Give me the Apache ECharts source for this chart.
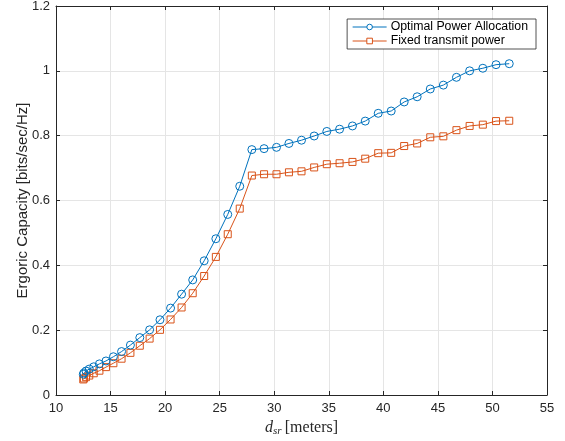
<!DOCTYPE html>
<html>
<head>
<meta charset="utf-8">
<script src="https://cdn.jsdelivr.net/npm/echarts@6/dist/echarts.min.js"></script>
<style>html,body{margin:0;padding:0;background:#fff}#c{width:565px;height:441px}</style>
</head>
<body>
<div id="c"></div>
<script>
const distances = [12.50,12.56,12.75,13.05,13.46,13.98,14.58,15.26,16.01,16.82,17.68,18.58,19.53,20.50,21.51,22.53,23.58,24.65,25.74,26.84,27.95,29.07,30.21,31.35,32.50,33.66,34.82,35.99,37.17,38.34,39.53,40.72,41.91,43.10,44.30,45.50,46.70,47.91,49.12,50.33,51.54];
const optimalPower = [0.064,0.068,0.074,0.080,0.087,0.096,0.105,0.118,0.134,0.154,0.177,0.201,0.232,0.268,0.311,0.355,0.414,0.482,0.557,0.644,0.757,0.760,0.764,0.776,0.786,0.799,0.813,0.820,0.830,0.845,0.869,0.876,0.904,0.920,0.944,0.956,0.980,1.000,1.008,1.019,1.022];
const fixedPower = [0.048,0.051,0.055,0.060,0.067,0.075,0.086,0.098,0.112,0.130,0.152,0.174,0.201,0.233,0.270,0.314,0.367,0.426,0.496,0.575,0.677,0.681,0.681,0.687,0.690,0.702,0.712,0.715,0.719,0.729,0.746,0.747,0.768,0.776,0.795,0.798,0.817,0.830,0.834,0.845,0.846];
const seriesNames = ['Optimal Power Allocation','Fixed transmit power'];
const xTicks = {min:10,max:55,interval:5};
const yTicks = {min:0,max:1.2,interval:0.2};

const axisColor = '#262626';
const font = 'Liberation Sans, Arial, Helvetica, sans-serif';
const serif = 'Liberation Serif, DejaVu Serif, serif';
const chart = echarts.init(document.getElementById('c'), null, {renderer:'canvas'});
const pairs = (ys) => distances.map((x,i)=>[x, ys[i]]);
chart.setOption({
  animation:false,
  backgroundColor:'#fff',
  grid:{left:56,right:18,top:6,bottom:46,containLabel:false,outerBoundsMode:'none'},
  legend:{
    orient:'vertical', right:29, top:19,
    data:seriesNames,
    backgroundColor:'#fff', borderColor:axisColor, borderWidth:0.8,
    padding:[2,8,2,5], itemGap:2, itemWidth:34, itemHeight:7,
    lineStyle:{width:1},
    itemStyle:{color:'#fff',borderWidth:1},
    textStyle:{fontFamily:font,fontSize:12.3,color:'#000',padding:[0,0,0,-1]}
  },
  xAxis:[{
    type:'value', min:xTicks.min, max:xTicks.max, interval:xTicks.interval,
    axisLine:{show:true,onZero:false,lineStyle:{color:axisColor,width:1}},
    axisTick:{show:true,inside:true,length:4,lineStyle:{color:axisColor}},
    axisLabel:{fontFamily:font,fontSize:13,color:axisColor,margin:7},
    splitLine:{show:true,lineStyle:{color:'#e5e5e5',width:1}},
    name:'{d|d}{s|sr} {m|[meters]}', nameLocation:'middle', nameGap:23,
    nameTextStyle:{rich:{
      d:{fontFamily:serif,fontStyle:'italic',fontSize:16,color:axisColor},
      s:{fontFamily:serif,fontStyle:'italic',fontSize:11,color:axisColor,padding:[7,0,0,0]},
      m:{fontFamily:serif,fontSize:16,color:axisColor}
    }}
  },{
    type:'value', position:'top', min:xTicks.min, max:xTicks.max, interval:xTicks.interval,
    axisLine:{show:true,onZero:false,lineStyle:{color:axisColor,width:1}},
    axisTick:{show:true,inside:true,length:4,lineStyle:{color:axisColor}},
    axisLabel:{show:false}, splitLine:{show:false}
  }],
  yAxis:[{
    type:'value', min:yTicks.min, max:yTicks.max, interval:yTicks.interval,
    axisLine:{show:true,onZero:false,lineStyle:{color:axisColor,width:1}},
    axisTick:{show:true,inside:true,length:4,lineStyle:{color:axisColor}},
    axisLabel:{fontFamily:font,fontSize:13,color:axisColor,margin:6,
      formatter:(v)=>String(Math.round(v*10)/10)},
    splitLine:{show:true,lineStyle:{color:'#e5e5e5',width:1}},
    name:'Ergoric Capacity [bits/sec/Hz]', nameLocation:'middle', nameGap:26,
    nameMoveOverlap:false,
    nameTextStyle:{fontFamily:font,fontSize:15,color:axisColor}
  },{
    type:'value', position:'right', min:yTicks.min, max:yTicks.max, interval:yTicks.interval,
    axisLine:{show:true,onZero:false,lineStyle:{color:axisColor,width:1}},
    axisTick:{show:true,inside:true,length:4,lineStyle:{color:axisColor}},
    axisLabel:{show:false}, splitLine:{show:false}
  }],
  series:[{
    name:seriesNames[0], type:'line', data:pairs(optimalPower),
    symbol:'circle', symbolSize:8, showAllSymbol:true,
    lineStyle:{color:'#0072BD',width:1},
    itemStyle:{color:'rgba(255,255,255,0)',borderColor:'#0072BD',borderWidth:1},
    z:3
  },{
    name:seriesNames[1], type:'line', data:pairs(fixedPower),
    symbol:'rect', symbolSize:7, showAllSymbol:true,
    lineStyle:{color:'#D95319',width:1},
    itemStyle:{color:'rgba(255,255,255,0)',borderColor:'#D95319',borderWidth:1},
    z:2
  }]
});
</script>
</body>
</html>
